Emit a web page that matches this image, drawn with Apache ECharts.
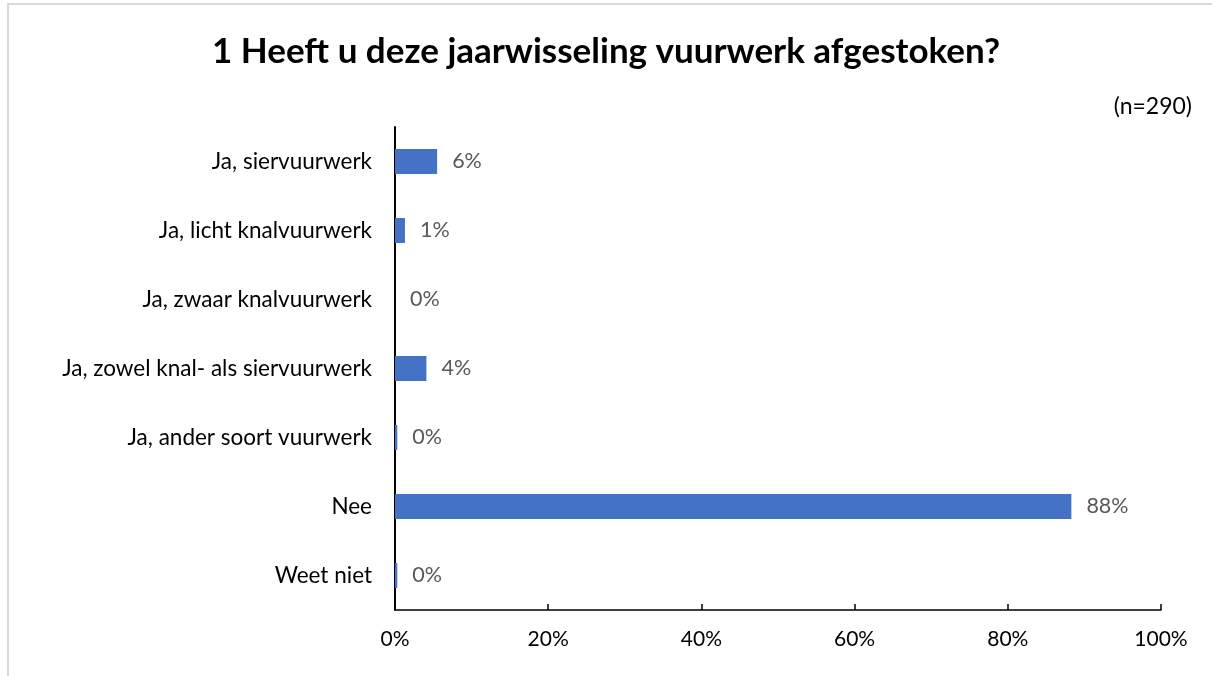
<!DOCTYPE html>
<html>
<head>
<meta charset="utf-8">
<script src="https://cdn.jsdelivr.net/npm/echarts@6/dist/echarts.min.js"></script>
<style>
  html, body { margin: 0; padding: 0; background: #fff; }
  #frame {
    position: absolute; left: 7px; top: 3px; width: 1220px; height: 700px;
    border-left: 2px solid #d9d9d9; border-top: 2px solid #d9d9d9;
  }
  #chart { position: absolute; left: 0; top: 0; width: 1212px; height: 676px; }
</style>
</head>
<body>
<div id="frame"></div>
<div id="chart"></div>
<script>
// antwoordcategorieën
var categories = [
  "Ja, siervuurwerk",
  "Ja, licht knalvuurwerk",
  "Ja, zwaar knalvuurwerk",
  "Ja, zowel knal- als siervuurwerk",
  "Ja, ander soort vuurwerk",
  "Nee",
  "Weet niet"
];
var values = [5.5, 1.3, 0, 4.1, 0.3, 88.3, 0.3];
var xTicks = [0, 20, 40, 60, 80, 100];

var fontName = "Lato, 'Open Sans', sans-serif";
var chart = echarts.init(document.getElementById("chart"));
chart.setOption({
  animation: false,
  title: [
    {
      text: "1 Heeft u deze jaarwisseling vuurwerk afgestoken?",
      left: "center",
      top: 29,
      textStyle: { fontFamily: fontName, fontSize: 35, fontWeight: "bold", color: "#000" }
    },
    {
      text: "(n=290)",
      right: 15,
      top: 90,
      textStyle: { fontFamily: fontName, fontSize: 23, fontWeight: "normal", color: "#000" }
    }
  ],
  grid: { left: 395, right: 51, top: 127, bottom: 66 },
  xAxis: {
    type: "value",
    min: 0,
    max: 100,
    interval: 20,
    splitLine: { show: false },
    axisLine: { show: true, lineStyle: { color: "#000", width: 1.5 } },
    axisTick: { show: true, inside: true, length: 6, lineStyle: { color: "#000", width: 1.5 } },
    axisLabel: {
      margin: 19,
      fontFamily: fontName,
      fontSize: 21,
      color: "#000",
      formatter: function (v) { return xTicks.indexOf(v) >= 0 ? v + "%" : ""; }
    }
  },
  yAxis: {
    type: "category",
    inverse: true,
    data: categories,
    axisLine: { show: true, lineStyle: { color: "#000", width: 2 } },
    axisTick: { show: false },
    axisLabel: { margin: 23, fontFamily: fontName, fontSize: 22.5, color: "#000" }
  },
  series: [
    {
      type: "bar",
      data: values,
      barWidth: 25,
      itemStyle: { color: "#4472C4" },
      label: {
        show: true,
        position: "right",
        distance: 15,
        fontFamily: fontName,
        fontSize: 21.5,
        color: "#595959",
        formatter: function (p) { return Math.round(p.value) + "%"; }
      }
    }
  ]
});
</script>
</body>
</html>
